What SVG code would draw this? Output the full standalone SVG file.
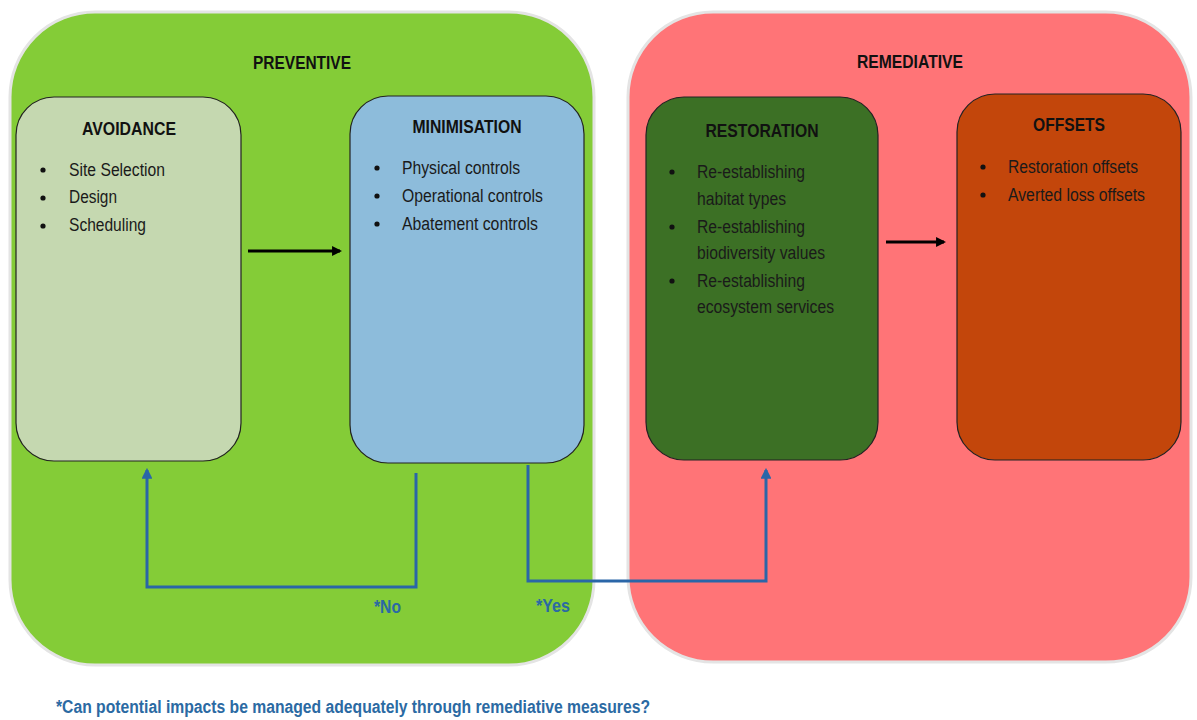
<svg xmlns="http://www.w3.org/2000/svg" width="1197" height="720" viewBox="0 0 1197 720">
<defs>
<style>
text{font-family:"Liberation Sans",Arial,sans-serif;}
.h{font-size:18px;font-weight:bold;fill:#111;text-anchor:middle;}
.b{font-size:18px;fill:#1a1a1a;}
.dot{fill:#111;}
.blue{fill:#2b6aa3;font-weight:bold;font-size:18px;}
.conn{fill:none;stroke:#2a66a8;stroke-width:3;}
.blk{fill:none;stroke:#000;stroke-width:3;}
.box{stroke:#222;stroke-width:1.2;}
</style>
<marker id="ab" viewBox="0 0 10 10" refX="8" refY="5" markerWidth="3.6" markerHeight="3.6" orient="auto"><path d="M0,0L10,5L0,10z" fill="#2a66a8"/></marker>
<marker id="ak" viewBox="0 0 10 10" refX="8" refY="5" markerWidth="3.3" markerHeight="3.3" orient="auto"><path d="M0,0L10,5L0,10z" fill="#000"/></marker>
</defs>
<rect width="1197" height="720" fill="#fff"/>
<g id="preventive">
<rect x="10" y="12" width="584" height="653" rx="85" fill="#84cc37" stroke="#e4e4e4" stroke-width="3"/>
<text class="h" x="302" y="69" textLength="98" lengthAdjust="spacingAndGlyphs">PREVENTIVE</text>
</g>
<g id="remediative">
<rect x="628" y="12" width="563" height="650" rx="85" fill="#ff7477" stroke="#e4e4e4" stroke-width="3"/>
<text class="h" x="910" y="68" textLength="106" lengthAdjust="spacingAndGlyphs">REMEDIATIVE</text>
</g>
<g id="avoidance">
<rect class="box" x="16" y="97" width="225" height="364" rx="38" fill="#c5d8b0"/>
<text class="h" x="129" y="135" textLength="94" lengthAdjust="spacingAndGlyphs">AVOIDANCE</text>
<circle class="dot" cx="43" cy="170" r="2.6"/><text class="b" x="69" y="176" textLength="96" lengthAdjust="spacingAndGlyphs">Site Selection</text>
<circle class="dot" cx="43" cy="198" r="2.6"/><text class="b" x="69" y="203" textLength="48" lengthAdjust="spacingAndGlyphs">Design</text>
<circle class="dot" cx="43" cy="226" r="2.6"/><text class="b" x="69" y="231" textLength="77" lengthAdjust="spacingAndGlyphs">Scheduling</text>
</g>
<g id="minimisation">
<rect class="box" x="350" y="96" width="234" height="367" rx="38" fill="#8dbcdb"/>
<text class="h" x="467" y="133" textLength="109" lengthAdjust="spacingAndGlyphs">MINIMISATION</text>
<circle class="dot" cx="377" cy="168" r="2.6"/><text class="b" x="402" y="174" textLength="118" lengthAdjust="spacingAndGlyphs">Physical controls</text>
<circle class="dot" cx="377" cy="196" r="2.6"/><text class="b" x="402" y="202" textLength="141" lengthAdjust="spacingAndGlyphs">Operational controls</text>
<circle class="dot" cx="377" cy="224" r="2.6"/><text class="b" x="402" y="230" textLength="136" lengthAdjust="spacingAndGlyphs">Abatement controls</text>
</g>
<g id="restoration">
<rect class="box" x="646" y="97" width="232" height="363" rx="38" fill="#3c7025"/>
<text class="h" x="762" y="137" textLength="113" lengthAdjust="spacingAndGlyphs">RESTORATION</text>
<circle class="dot" cx="672" cy="172" r="2.6"/><text class="b" x="697" y="178" textLength="108" lengthAdjust="spacingAndGlyphs">Re-establishing</text>
<text class="b" x="697" y="205" textLength="89" lengthAdjust="spacingAndGlyphs">habitat types</text>
<circle class="dot" cx="672" cy="227" r="2.6"/><text class="b" x="697" y="233" textLength="108" lengthAdjust="spacingAndGlyphs">Re-establishing</text>
<text class="b" x="697" y="259" textLength="128" lengthAdjust="spacingAndGlyphs">biodiversity values</text>
<circle class="dot" cx="672" cy="281" r="2.6"/><text class="b" x="697" y="287" textLength="108" lengthAdjust="spacingAndGlyphs">Re-establishing</text>
<text class="b" x="697" y="313" textLength="137" lengthAdjust="spacingAndGlyphs">ecosystem services</text>
</g>
<g id="offsets">
<rect class="box" x="957" y="94" width="224" height="366" rx="38" fill="#c3460b"/>
<text class="h" x="1069" y="131" textLength="72" lengthAdjust="spacingAndGlyphs">OFFSETS</text>
<circle class="dot" cx="983" cy="167" r="2.6"/><text class="b" x="1008" y="173" fill="#2a1208" textLength="130" lengthAdjust="spacingAndGlyphs">Restoration offsets</text>
<circle class="dot" cx="983" cy="195" r="2.6"/><text class="b" x="1008" y="201" fill="#2a1208" textLength="137" lengthAdjust="spacingAndGlyphs">Averted loss offsets</text>
</g>
<g id="connectors">
<path class="blk" d="M248,251H340" marker-end="url(#ak)"/>
<path class="blk" d="M886,242H944" marker-end="url(#ak)"/>
<path class="conn" d="M416,473V587H147V470" marker-end="url(#ab)"/>
<path class="conn" d="M528,465V581H766V470" marker-end="url(#ab)"/>
</g>
<g id="labels">
<text class="blue" x="374" y="613" textLength="27" lengthAdjust="spacingAndGlyphs">*No</text>
<text class="blue" x="536" y="612" textLength="34" lengthAdjust="spacingAndGlyphs">*Yes</text>
<text class="blue" x="56" y="713" textLength="594" lengthAdjust="spacingAndGlyphs">*Can potential impacts be managed adequately through remediative measures?</text>
</g>
</svg>
